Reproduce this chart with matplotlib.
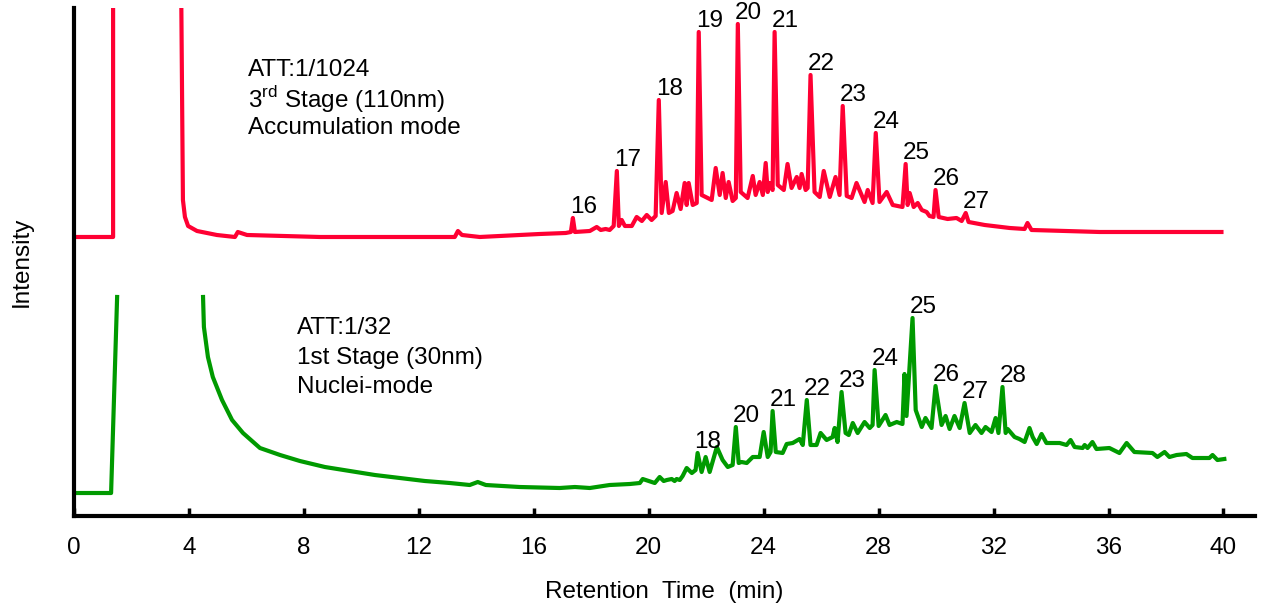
import numpy as np
import matplotlib
matplotlib.use("Agg")
import matplotlib.pyplot as plt

plt.rcParams["font.family"] = ["Liberation Sans", "DejaVu Sans"]
plt.rcParams["mathtext.fontset"] = "custom"
plt.rcParams["mathtext.rm"] = "Liberation Sans"

RED = "#ff0033"
GREEN = "#009a00"

# 3rd stage (110nm), retention time (min) / intensity (arbitrary)
t_stage3 = [0.0, 1.36, 1.36, 3.72, 3.79, 3.86, 3.97, 4.28, 4.97, 5.60, 5.70, 6.02, 8.56,
            13.25, 13.36, 13.50, 14.12, 16.21, 17.11, 17.29, 17.36, 17.43, 17.95, 18.19,
            18.33, 18.50, 18.64, 18.78, 18.89, 18.96, 19.06, 19.17, 19.41, 19.58, 19.76,
            19.93, 20.10, 20.24, 20.35, 20.45, 20.59, 20.70, 20.83, 20.97, 21.11, 21.25,
            21.32, 21.39, 21.53, 21.67, 21.74, 21.84, 22.19, 22.33, 22.47, 22.57, 22.68,
            22.78, 22.92, 23.03, 23.10, 23.20, 23.44, 23.62, 23.72, 23.86, 23.97, 24.07,
            24.14, 24.21, 24.31, 24.38, 24.49, 24.70, 24.83, 24.97, 25.15, 25.25, 25.32,
            25.46, 25.53, 25.63, 25.77, 25.95, 26.09, 26.30, 26.50, 26.64, 26.75, 26.89,
            27.06, 27.23, 27.51, 27.62, 27.79, 27.90, 28.03, 28.28, 28.49, 28.83, 28.94,
            29.01, 29.08, 29.22, 29.36, 29.50, 29.67, 29.77, 29.91, 29.98, 30.09, 30.40,
            30.71, 30.89, 31.03, 31.13, 31.69, 32.56, 33.08, 33.18, 33.32, 35.69, 39.93]
i_stage3 = [279, 279, 560, 560, 316, 299, 290, 285, 281, 279, 284, 281, 279,
            279, 285, 281, 279, 282, 283, 284, 298, 284, 285, 289,
            286, 287, 286, 290, 345, 290, 296, 290, 290, 299, 295,
            301, 296, 300, 416, 303, 334, 303, 305, 323, 307, 333,
            311, 333, 311, 313, 484, 321, 316, 348, 321, 343, 318,
            334, 315, 318, 492, 324, 318, 340, 321, 334, 321, 353,
            324, 333, 326, 484, 331, 326, 352, 328, 339, 328, 342,
            326, 328, 441, 324, 319, 345, 319, 339, 321, 410, 320,
            318, 333, 314, 326, 313, 383, 314, 324, 311, 309, 352,
            311, 323, 309, 313, 306, 304, 300, 299, 326, 299, 297,
            298, 295, 303, 294, 291, 288, 287, 293, 286, 284, 284]

# 1st stage (30nm)
t_stage1 = [0.0, 1.29, 1.50, np.nan, 4.49, 4.52, 4.66, 4.83, 5.15, 5.50, 5.88, 6.47, 7.17,
            7.86, 8.73, 9.60, 10.47, 11.34, 12.21, 13.08, 13.77, 14.05, 14.33, 15.51,
            16.90, 17.43, 17.95, 18.64, 19.34, 19.69, 19.79, 20.21, 20.38, 20.52, 20.63,
            20.80, 20.90, 20.97, 21.08, 21.18, 21.32, 21.50, 21.63, 21.70, 21.84, 21.98,
            22.12, 22.37, 22.57, 22.75, 22.92, 23.03, 23.13, 23.23, 23.41, 23.62, 23.86,
            24.00, 24.14, 24.24, 24.31, 24.42, 24.66, 24.80, 25.01, 25.25, 25.36, 25.50,
            25.63, 25.84, 25.98, 26.19, 26.40, 26.47, 26.57, 26.71, 26.85, 26.96, 27.10,
            27.27, 27.51, 27.69, 27.79, 27.86, 28.00, 28.24, 28.38, 28.63, 28.83, 28.90,
            28.97, 29.18, 29.29, 29.50, 29.63, 29.84, 29.98, 30.19, 30.33, 30.47, 30.64,
            30.82, 30.99, 31.17, 31.37, 31.58, 31.72, 31.93, 32.07, 32.17, 32.31, 32.42,
            32.49, 32.73, 32.90, 33.08, 33.25, 33.36, 33.50, 33.67, 33.84, 34.30, 34.54,
            34.68, 34.82, 35.10, 35.17, 35.27, 35.44, 35.58, 36.03, 36.38, 36.63, 36.90,
            37.53, 37.70, 37.95, 38.12, 38.37, 38.71, 38.92, 39.51, 39.62, 39.79, 40.03]
i_stage1 = [23, 23, 219, np.nan, 219, 189, 159, 139, 116, 96, 83, 68, 61,
            55, 49, 45, 41, 38, 35, 33, 31, 34, 31, 29,
            28, 29, 28, 31, 32, 33, 37, 33, 39, 35, 36,
            37, 35, 37, 36, 40, 48, 43, 46, 63, 44, 59,
            44, 69, 56, 49, 51, 89, 53, 54, 53, 59, 59,
            84, 59, 64, 105, 64, 63, 72, 73, 77, 71, 116,
            71, 71, 83, 76, 79, 88, 74, 124, 83, 81, 93,
            83, 94, 88, 91, 146, 90, 101, 91, 94, 92, 142,
            100, 198, 106, 89, 98, 88, 130, 91, 100, 87, 100,
            88, 113, 83, 91, 83, 89, 84, 98, 83, 129, 83,
            87, 79, 77, 74, 88, 79, 72, 82, 73, 73, 71,
            76, 69, 68, 71, 68, 74, 67, 68, 63, 73, 64,
            63, 59, 64, 59, 61, 62, 58, 58, 61, 56, 57]

# carbon number labels at peak tops
peaks3_t = [17.36, 18.89, 20.35, 21.74, 23.10, 24.38, 25.63, 26.75, 27.90, 28.94, 29.98, 31.03]
peaks3_i = [298, 345, 416, 484, 492, 484, 441, 410, 383, 352, 326, 303]
peaks3_lab = ["16", "17", "18", "19", "20", "21", "22", "23", "24", "25", "26", "27"]

peaks1_t = [21.70, 23.03, 24.31, 25.50, 26.71, 27.86, 29.18, 29.98, 30.99, 32.31]
peaks1_i = [63, 89, 105, 116, 124, 146, 198, 130, 113, 129]
peaks1_lab = ["18", "20", "21", "22", "23", "24", "25", "26", "27", "28"]

fig = plt.figure(figsize=(12.61, 6.09), dpi=100)
ax = fig.add_axes([0.0587, 0.1527, 0.9366, 0.8342])

ax.plot(t_stage3, i_stage3, color=RED, lw=3, solid_joinstyle="round")
ax.plot(t_stage1, i_stage1, color=GREEN, lw=3, solid_joinstyle="round")

fs = 17.5
for t, v, lab in zip(peaks3_t, peaks3_i, peaks3_lab):
    ax.annotate(lab, (t, v), xytext=(-3, 0), textcoords="offset pixels",
                ha="left", va="bottom", fontsize=fs)
for t, v, lab in zip(peaks1_t, peaks1_i, peaks1_lab):
    ax.annotate(lab, (t, v), xytext=(-3, 0), textcoords="offset pixels",
                ha="left", va="bottom", fontsize=fs)

ax.text(6.05, 446, "ATT:1/1024", fontsize=fs, va="center")
ax.text(6.05, 416, r"3$^{\mathrm{rd}}$ Stage (110nm)", fontsize=fs, va="center")
ax.text(6.05, 388, "Accumulation mode", fontsize=fs, va="center")

ax.text(7.76, 188, "ATT:1/32", fontsize=fs, va="center")
ax.text(7.76, 158, "1st Stage (30nm)", fontsize=fs, va="center")
ax.text(7.76, 129, "Nuclei-mode", fontsize=fs, va="center")

ax.set_xlim(0, 41.1)
ax.set_ylim(0, 508)
ax.set_xticks(np.arange(0, 41, 4))
ax.set_yticks([])
ax.tick_params(axis="x", direction="in", length=6, width=2.5, pad=15, labelsize=fs)
for side in ["top", "right"]:
    ax.spines[side].set_visible(False)
for side in ["left", "bottom"]:
    ax.spines[side].set_linewidth(3)

ax.set_xlabel("Retention  Time  (min)", fontsize=fs, labelpad=16)
ax.set_ylabel("Intensity", fontsize=fs, labelpad=30)

fig.savefig("out.png", dpi=100)
